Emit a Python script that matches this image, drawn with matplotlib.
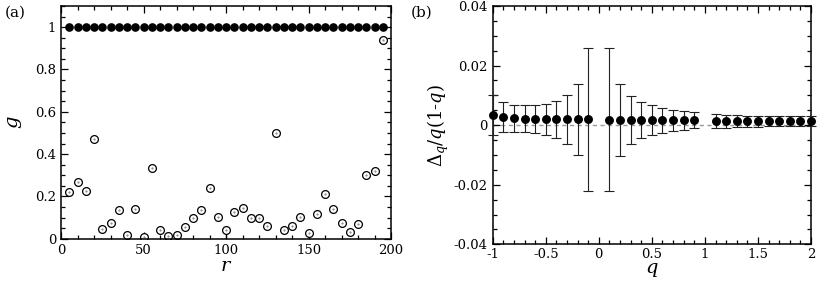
import numpy as np
import matplotlib
matplotlib.use("Agg")
import matplotlib.pyplot as plt
from matplotlib.ticker import MultipleLocator, FormatStrFormatter

plt.rcParams['font.family'] = ['DejaVu Serif']
plt.rcParams['mathtext.fontset'] = 'dejavuserif'

# ---------------- data: panel (a) ----------------
r_vals = list(range(5, 200, 5))
g_filled = [1.0] * len(r_vals)
g_open = [0.223, 0.270, 0.227, 0.471, 0.044, 0.076, 0.134, 0.017, 0.141, 0.008,
          0.336, 0.043, 0.011, 0.016, 0.054, 0.100, 0.137, 0.242, 0.103, 0.039,
          0.126, 0.147, 0.096, 0.096, 0.062, 0.498, 0.039, 0.062, 0.103, 0.027,
          0.118, 0.210, 0.142, 0.074, 0.033, 0.071, 0.303, 0.319, 0.938]
g_err_low = [0, 0, 0, 0, 0, 0, 0, 0.017, 0, 0.02,
             0, 0, 0.011, 0.016, 0, 0, 0, 0, 0, 0.039,
             0, 0, 0, 0, 0, 0, 0, 0, 0, 0.027,
             0, 0, 0, 0, 0, 0, 0, 0, 0]
g_err_high = [0, 0, 0, 0, 0, 0, 0, 0, 0, 0.02,
              0, 0, 0, 0, 0, 0, 0, 0, 0, 0,
              0, 0, 0, 0, 0, 0, 0, 0, 0, 0,
              0, 0, 0, 0, 0, 0, 0, 0, 0]

# ---------------- data: panel (b) ----------------
q_vals = [-1.0, -0.9, -0.8, -0.7, -0.6, -0.5, -0.4, -0.3, -0.2, -0.1,
          0.1, 0.2, 0.3, 0.4, 0.5, 0.6, 0.7, 0.8, 0.9,
          1.1, 1.2, 1.3, 1.4, 1.5, 1.6, 1.7, 1.8, 1.9, 2.0]
d_vals = [0.0034, 0.0027, 0.0023, 0.0021, 0.0020, 0.0020, 0.0019, 0.0019, 0.0019, 0.0019,
          0.0018, 0.0018, 0.0018, 0.0017, 0.0016, 0.0016, 0.0016, 0.0016, 0.0016,
          0.0013, 0.0013, 0.0013, 0.0013, 0.0013, 0.0013, 0.0013, 0.0013, 0.0013, 0.0013]
d_err = [0.0067, 0.0051, 0.0045, 0.0045, 0.0047, 0.0052, 0.0062, 0.0082, 0.0120, 0.0240,
         0.0240, 0.0120, 0.0081, 0.0060, 0.0050, 0.0041, 0.0035, 0.0031, 0.0027,
         0.0023, 0.0021, 0.0020, 0.0019, 0.0018, 0.0017, 0.0017, 0.0017, 0.0017, 0.0017]

W, H = 818, 286
fig = plt.figure(figsize=(W / 100, H / 100), dpi=100)

def style_axes(ax):
    ax.tick_params(which='both', direction='in', top=True, right=True,
                   labelsize=9.5, width=0.9)
    ax.tick_params(which='major', length=5)
    ax.tick_params(which='minor', length=2.8)
    for s in ax.spines.values():
        s.set_linewidth(1.1)

# ---- panel (a)
axa = fig.add_axes([61 / W, 1 - 238.7 / H, 330 / W, 232.7 / H])
axa.plot(r_vals, g_filled, 'o', color='black', ms=5.2, mec='black')
axa.errorbar(r_vals, g_open, yerr=[g_err_low, g_err_high], fmt='none',
             ecolor='black', elinewidth=0.9, capsize=0)
axa.plot(r_vals, g_open, 'o', mfc='white', mec='black', ms=5.6, mew=0.9)
axa.plot(r_vals, g_open, '.', color='#777777', ms=1.0)
axa.set_xlim(0, 200)
axa.set_ylim(0, 1.1)
axa.xaxis.set_major_locator(MultipleLocator(50))
axa.xaxis.set_minor_locator(MultipleLocator(10))
axa.yaxis.set_major_locator(MultipleLocator(0.2))
axa.yaxis.set_minor_locator(MultipleLocator(0.05))
axa.set_yticks([0, 0.2, 0.4, 0.6, 0.8, 1.0])
axa.set_yticklabels(['0', '0.2', '0.4', '0.6', '0.8', '1'])
style_axes(axa)
axa.set_xlabel(r'$\mathit{r}$', fontsize=14, labelpad=0)
axa.set_ylabel(r'$\mathit{g}$', fontsize=14, labelpad=8)
fig.text(5 / W, 1 - 13 / H, '(a)', fontsize=11, va='center', ha='left')

# ---- panel (b)
axb = fig.add_axes([492.7 / W, 1 - 244.3 / H, 318.3 / W, 238.3 / H])
axb.axhline(0, color='#9a9a9a', lw=1.0, ls=(0, (3, 2.5)), zorder=1)
axb.errorbar(q_vals, d_vals, yerr=d_err, fmt='o', color='black', ms=5.4,
             ecolor='#222222', elinewidth=0.8, capsize=3.6, capthick=0.8,
             clip_on=False, zorder=3)
axb.set_xlim(-1, 2)
axb.set_ylim(-0.04, 0.04)
axb.xaxis.set_major_locator(MultipleLocator(0.5))
axb.xaxis.set_minor_locator(MultipleLocator(0.1))
axb.yaxis.set_major_locator(MultipleLocator(0.02))
axb.yaxis.set_minor_locator(MultipleLocator(0.005))
axb.set_xticks([-1, -0.5, 0, 0.5, 1, 1.5, 2])
axb.set_xticklabels(['-1', '-0.5', '0', '0.5', '1', '1.5', '2'])
axb.set_yticks([-0.04, -0.02, 0, 0.02, 0.04])
axb.set_yticklabels(['-0.04', '-0.02', '0', '0.02', '0.04'])
style_axes(axb)
axb.tick_params(axis='x', which='major', pad=2.5)
axb.set_xlabel(r'$\mathit{q}$', fontsize=14, labelpad=0)
axb.set_ylabel(r'$\mathit{\Delta_q/q(1}$-$\mathit{q)}$', fontsize=13, labelpad=2)
fig.text(411 / W, 1 - 13 / H, '(b)', fontsize=11, va='center', ha='left')

fig.savefig('out.png', dpi=100)
